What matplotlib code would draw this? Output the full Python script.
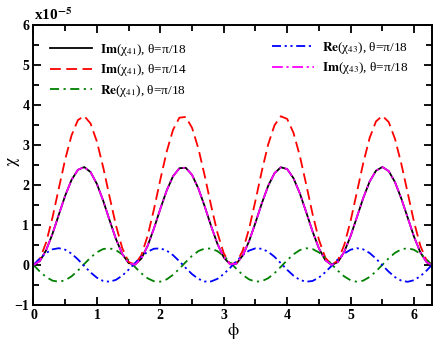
import matplotlib
matplotlib.use("Agg")
import matplotlib.pyplot as plt
from matplotlib.ticker import MultipleLocator

plt.rcParams["font.family"] = ["Liberation Serif", "DejaVu Serif"]
plt.rcParams["mathtext.fontset"] = "stix"

# phi values and curves (units of 1e-5)
phi = [0.0, 0.1, 0.2, 0.3, 0.4, 0.5, 0.6, 0.7, 0.8, 0.9,
       1.0, 1.1, 1.2, 1.3, 1.4, 1.5, 1.6, 1.7, 1.8, 1.9,
       2.0, 2.1, 2.2, 2.3, 2.4, 2.5, 2.6, 2.7, 2.8, 2.9,
       3.0, 3.1, 3.2, 3.3, 3.4, 3.5, 3.6, 3.7, 3.8, 3.9,
       4.0, 4.1, 4.2, 4.3, 4.4, 4.5, 4.6, 4.7, 4.8, 4.9,
       5.0, 5.1, 5.2, 5.3, 5.4, 5.5, 5.6, 5.7, 5.8, 5.9,
       6.0, 6.1, 6.2, 6.28]

im41_18 = [0.0, 0.097, 0.371, 0.781, 1.261, 1.735, 2.128, 2.379, 2.448, 2.323,
           2.026, 1.602, 1.118, 0.651, 0.275, 0.049, 0.008, 0.160, 0.480, 0.917,
           1.403, 1.861, 2.218, 2.419, 2.431, 2.253, 1.912, 1.463, 0.976, 0.529,
           0.191, 0.017, 0.033, 0.238, 0.598, 1.058, 1.543, 1.979, 2.295, 2.443,
           2.398, 2.168, 1.789, 1.321, 0.838, 0.416, 0.122, 0.002, 0.074, 0.329,
           0.725, 1.200, 1.679, 2.086, 2.357, 2.450, 2.349, 2.071, 1.659, 1.184,
           0.705, 0.314, 0.067, 0.0]

im41_14 = [0.0, 0.147, 0.566, 1.189, 1.920, 2.641, 3.240, 3.622, 3.727, 3.537,
           3.084, 2.438, 1.702, 0.991, 0.419, 0.074, 0.013, 0.244, 0.730, 1.397,
           2.136, 2.834, 3.378, 3.683, 3.702, 3.430, 2.912, 2.228, 1.487, 0.805,
           0.291, 0.026, 0.051, 0.362, 0.911, 1.610, 2.350, 3.013, 3.494, 3.719,
           3.651, 3.301, 2.724, 2.012, 1.276, 0.633, 0.185, 0.002, 0.113, 0.501,
           1.104, 1.827, 2.556, 3.176, 3.589, 3.730, 3.576, 3.152, 2.525, 1.803,
           1.074, 0.479, 0.102, 0.0]

re41_18 = [0.0, -0.164, -0.301, -0.391, -0.420, -0.382, -0.284, -0.141, 0.025, 0.186,
           0.318, 0.400, 0.418, 0.371, 0.265, 0.117, -0.049, -0.208, -0.333, -0.407,
           -0.416, -0.359, -0.246, -0.094, 0.073, 0.228, 0.348, 0.412, 0.411, 0.346,
           0.225, 0.070, -0.097, -0.249, -0.361, -0.416, -0.406, -0.331, -0.205, -0.045,
           0.121, 0.268, 0.373, 0.419, 0.399, 0.315, 0.183, 0.021, -0.144, -0.286,
           -0.383, -0.420, -0.390, -0.299, -0.160, 0.004, 0.167, 0.304, 0.393, 0.420,
           0.380, 0.280, 0.137, 0.0]

re43_18 = [0.0, 0.164, 0.301, 0.391, 0.420, 0.382, 0.284, 0.141, -0.025, -0.186,
           -0.318, -0.400, -0.418, -0.371, -0.265, -0.117, 0.049, 0.208, 0.333, 0.407,
           0.416, 0.359, 0.246, 0.094, -0.073, -0.228, -0.348, -0.412, -0.411, -0.346,
           -0.225, -0.070, 0.097, 0.249, 0.361, 0.416, 0.406, 0.331, 0.205, 0.045,
           -0.121, -0.268, -0.373, -0.419, -0.399, -0.315, -0.183, -0.021, 0.144, 0.286,
           0.383, 0.420, 0.390, 0.299, 0.160, -0.004, -0.167, -0.304, -0.393, -0.420,
           -0.380, -0.280, -0.137, 0.0]

im43_18 = [0.0, 0.097, 0.371, 0.781, 1.261, 1.735, 2.128, 2.379, 2.448, 2.323,
           2.026, 1.602, 1.118, 0.651, 0.275, 0.049, 0.008, 0.160, 0.480, 0.917,
           1.403, 1.861, 2.218, 2.419, 2.431, 2.253, 1.912, 1.463, 0.976, 0.529,
           0.191, 0.017, 0.033, 0.238, 0.598, 1.058, 1.543, 1.979, 2.295, 2.443,
           2.398, 2.168, 1.789, 1.321, 0.838, 0.416, 0.122, 0.002, 0.074, 0.329,
           0.725, 1.200, 1.679, 2.086, 2.357, 2.450, 2.349, 2.071, 1.659, 1.184,
           0.705, 0.314, 0.067, 0.0]

fig = plt.figure(figsize=(4.36, 3.42), dpi=100)
ax = fig.add_axes([0.0768, 0.1082, 0.9140, 0.8187])

l1, = ax.plot(phi, im41_18, color="black", lw=1.3, ls="-")
l2, = ax.plot(phi, im41_14, color="red", lw=1.3, ls=(0, (6, 3)))
l3, = ax.plot(phi, re41_18, color="green", lw=1.3, ls=(0, (5, 2.5, 1.2, 2.5)))
l4, = ax.plot(phi, re43_18, color="blue", lw=1.3, ls=(0, (5, 2, 1.2, 2, 1.2, 2)))
l5, = ax.plot(phi, im43_18, color="magenta", lw=1.3, ls=(0, (6, 2, 1.2, 2)))

ax.set_xlim(0, 6.283)
ax.set_ylim(-1, 6)
ax.xaxis.set_major_locator(MultipleLocator(1))
ax.xaxis.set_minor_locator(MultipleLocator(0.5))
ax.yaxis.set_major_locator(MultipleLocator(1))
ax.yaxis.set_minor_locator(MultipleLocator(0.5))
ax.tick_params(which="both", direction="in", top=True, right=True, width=1.3)
ax.tick_params(which="major", length=6, labelsize=10, pad=3)
ax.tick_params(which="minor", length=4)
for lab in ax.get_xticklabels() + ax.get_yticklabels():
    lab.set_fontweight("bold")
for sp in ax.spines.values():
    sp.set_linewidth(1.4)

fig.text(14 / 436, 1 - 162 / 342, r"$\mathrm{\chi}$", fontsize=13,
         rotation=90, ha="center", va="center")
fig.text(233 / 436, 1 - 331 / 342, r"$\mathrm{\phi}$", fontsize=13,
         ha="center", va="center")
fig.text(34 / 436, 1 - 20 / 342, r"x10$^{\mathbf{-5}}$", fontsize=11,
         fontweight="bold", ha="left", va="baseline")

leg_kw = dict(frameon=False, fontsize=9.5, handlelength=3.2, handletextpad=0.6,
              labelspacing=0.35, borderpad=0, borderaxespad=0)
leg1 = ax.legend([l1, l2, l3],
                 [r"$\mathbf{Im}$(χ$_{41}$), θ=π/18",
                  r"$\mathbf{Im}$(χ$_{41}$), θ=π/14",
                  r"$\mathbf{Re}$(χ$_{41}$), θ=π/18"],
                 loc="upper left", bbox_to_anchor=(0.041, 0.94), **leg_kw)
ax.add_artist(leg1)
ax.legend([l4, l5],
          [r"$\mathbf{Re}$(χ$_{43}$), θ=π/18",
           r"$\mathbf{Im}$(χ$_{43}$), θ=π/18"],
          loc="upper left", bbox_to_anchor=(0.598, 0.947), **leg_kw)

fig.savefig("out.png", dpi=100)
